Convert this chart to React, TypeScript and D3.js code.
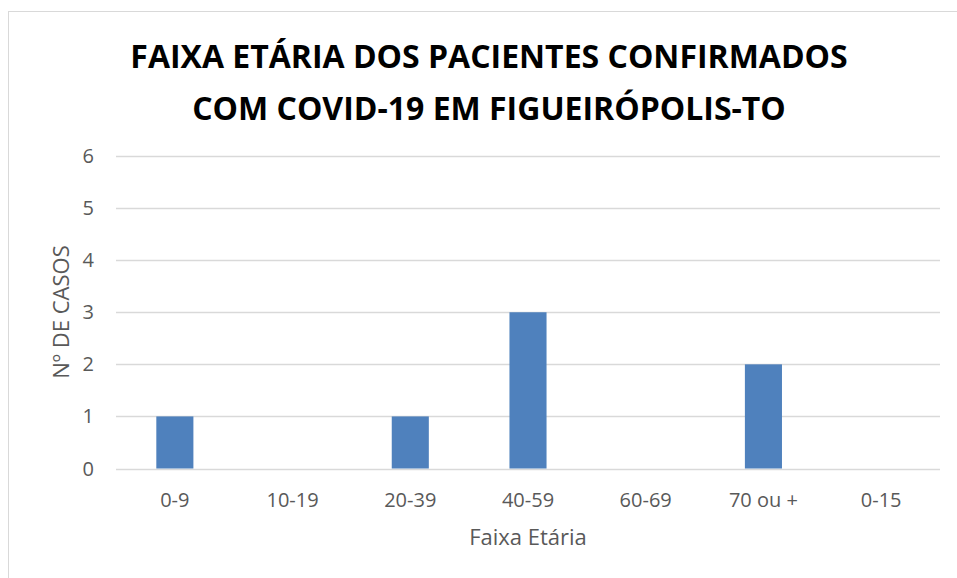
import React, { useEffect, useRef } from 'react';
import * as d3 from 'd3';

const categories = ['0-9', '10-19', '20-39', '40-59', '60-69', '70 ou +', '0-15'];
const cases = [1, 0, 1, 3, 0, 2, 0];
const yTicks = [0, 1, 2, 3, 4, 5, 6];
const titleLines = ['FAIXA ETÁRIA DOS PACIENTES CONFIRMADOS', 'COM COVID-19 EM FIGUEIRÓPOLIS-TO'];

const FONT = '"Open Sans", Calibri, sans-serif';

function App() {
  const ref = useRef<SVGSVGElement>(null);

  useEffect(() => {
    const width = 957;
    const height = 578;
    const margin = { top: 156, right: 17, bottom: 109.5, left: 116 };
    const innerW = width - margin.left - margin.right;
    const innerH = height - margin.top - margin.bottom;

    const svg = d3.select(ref.current);
    svg.selectAll('*').remove();

    // chart frame
    svg
      .append('rect')
      .attr('x', 8.5)
      .attr('y', 11.5)
      .attr('width', 960)
      .attr('height', 580)
      .attr('fill', '#fff')
      .attr('stroke', '#d9d9d9')
      .attr('stroke-width', 1);

    // title
    svg
      .append('g')
      .selectAll('text')
      .data(titleLines)
      .enter()
      .append('text')
      .attr('x', 489)
      .attr('y', (d, i) => 68 + i * 52)
      .attr('text-anchor', 'middle')
      .style('font-family', FONT)
      .style('font-weight', 'bold')
      .style('font-size', '32px')
      .style('fill', '#000')
      .text(d => d);

    const g = svg.append('g').attr('transform', 'translate(' + margin.left + ',' + margin.top + ')');

    const x = d3.scaleBand<string>()
      .domain(categories)
      .range([0, innerW])
      .paddingInner(0.685)
      .paddingOuter(0.3425);

    const y = d3.scaleLinear()
      .domain([0, 6])
      .range([innerH, 0]);

    // gridlines
    g.append('g')
      .selectAll('line')
      .data(yTicks)
      .enter()
      .append('line')
      .attr('x1', 0)
      .attr('x2', innerW)
      .attr('y1', d => Math.round(y(d)) + 0.5)
      .attr('y2', d => Math.round(y(d)) + 0.5)
      .attr('stroke', '#d9d9d9')
      .attr('stroke-width', 1.3);

    // y tick labels
    g.append('g')
      .selectAll('text')
      .data(yTicks)
      .enter()
      .append('text')
      .attr('x', -22)
      .attr('y', d => y(d))
      .attr('dy', '0.35em')
      .attr('text-anchor', 'end')
      .style('font-family', FONT)
      .style('font-size', '20px')
      .style('fill', '#595959')
      .text(d => d);

    // bars
    g.append('g')
      .selectAll('rect')
      .data(cases)
      .enter()
      .append('rect')
      .attr('x', (d, i) => x(categories[i]) as number)
      .attr('y', d => y(d))
      .attr('width', x.bandwidth())
      .attr('height', d => innerH - y(d))
      .attr('fill', '#4f81bd');

    // x tick labels
    g.append('g')
      .selectAll('text')
      .data(categories)
      .enter()
      .append('text')
      .attr('x', d => (x(d) as number) + x.bandwidth() / 2)
      .attr('y', innerH + 38.5)
      .attr('text-anchor', 'middle')
      .style('font-family', FONT)
      .style('font-size', '20px')
      .style('fill', '#595959')
      .text(d => d);

    // axis titles
    svg
      .append('text')
      .attr('x', 528)
      .attr('y', 545)
      .attr('text-anchor', 'middle')
      .style('font-family', FONT)
      .style('font-size', '22px')
      .style('fill', '#595959')
      .text('Faixa Etária');

    svg
      .append('text')
      .attr('transform', 'translate(69,312) rotate(-90)')
      .attr('text-anchor', 'middle')
      .style('font-family', FONT)
      .style('font-size', '22px')
      .style('fill', '#595959')
      .text('Nº DE CASOS');
  }, []);

  return (
    <svg
      ref={ref}
      width={957}
      height={578}
      style={{ position: 'absolute', left: 0, top: 0, display: 'block' }}
    />
  );
}

export default App;
